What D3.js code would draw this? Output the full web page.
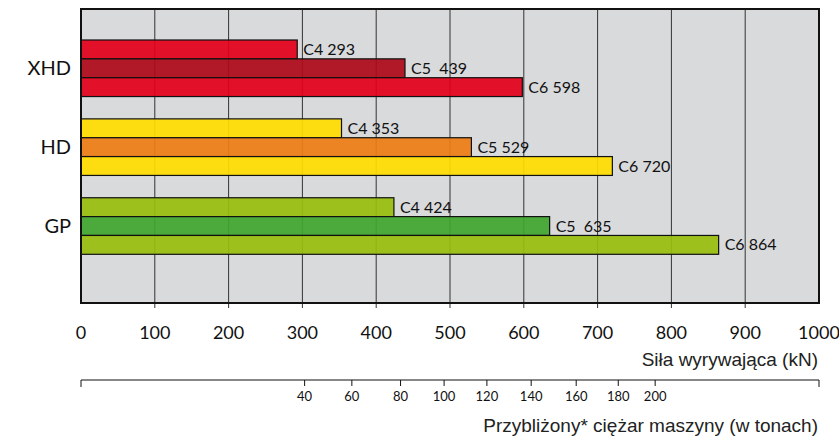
<!DOCTYPE html>
<html>
<head>
<meta charset="utf-8">
<script src="https://cdn.jsdelivr.net/npm/d3@7"></script>
<style>
  body { margin: 0; background: #fff; }
  svg { display: block; }
</style>
</head>
<body>
<div id="chart"></div>
<script>
// data
var groups = ["XHD", "HD", "GP"];
var models = ["C4", "C5", "C6"];
var xhdValues = [293, 439, 598];
var hdValues = [353, 529, 720];
var gpValues = [424, 635, 864];
var barLabels = [["C4 293", "C5  439", "C6 598"],
                 ["C4 353", "C5 529", "C6 720"],
                 ["C4 424", "C5  635", "C6 864"]];
var forceTicks = [0, 100, 200, 300, 400, 500, 600, 700, 800, 900, 1000];
var tonTicks = [40, 60, 80, 100, 120, 140, 160, 180, 200];
var tonAtForce = [303, 367, 433, 492, 550, 610, 671, 728, 778]; // kN position of each tonnage tick
var colors = {
    XHD: ["#e2001a", "#ad0a1a", "#e2001a"],
    HD: ["#ffdd00", "#ed7d14", "#ffdd00"],
    GP: ["#98bd0e", "#40a62e", "#98bd0e"]
};

var W = 839, H = 437;
var plotL = 81, plotR = 819, plotT = 9, plotB = 303;

var svg = d3.select("#chart").append("svg")
    .attr("width", W).attr("height", H);

var x = d3.scaleLinear().domain([0, 1000]).range([plotL, plotR]);
var y = d3.scaleBand().domain(groups).range([40, 254.3]).paddingInner(0.283).paddingOuter(0);
var yInner = d3.scaleBand().domain(models).range([0, y.bandwidth()]);

// background
svg.append("rect")
    .attr("x", plotL).attr("y", plotT)
    .attr("width", plotR - plotL).attr("height", plotB - plotT)
    .attr("fill", "#d9dadc");

// grid
svg.append("g").selectAll("line")
    .data(forceTicks.slice(1, -1))
    .enter().append("line")
    .attr("x1", function(d){ return x(d); }).attr("x2", function(d){ return x(d); })
    .attr("y1", plotT).attr("y2", plotB + 5)
    .attr("stroke", "#333").attr("stroke-width", 1);

// bars
var allValues = [xhdValues, hdValues, gpValues];
groups.forEach(function(g, gi){
    var grp = svg.append("g").attr("transform", "translate(0," + y(g) + ")");
    grp.selectAll("rect")
        .data(allValues[gi])
        .enter().append("rect")
        .attr("x", x(0))
        .attr("y", function(d, i){ return yInner(models[i]); })
        .attr("width", function(d){ return x(d) - x(0); })
        .attr("height", yInner.bandwidth())
        .attr("fill", function(d, i){ return colors[g][i]; })
        .attr("fill-opacity", 0.93)
        .attr("stroke", "#111").attr("stroke-width", 1.2);
    grp.selectAll("text")
        .data(allValues[gi])
        .enter().append("text")
        .attr("x", function(d){ return x(d) + 6; })
        .attr("y", function(d, i){ return yInner(models[i]) + yInner.bandwidth() / 2; })
        .attr("dy", "0.35em")
        .style("white-space", "pre")
        .attr("font-family", "Lato, sans-serif").attr("font-size", 16)
        .attr("fill", "#111")
        .text(function(d, i){ return barLabels[gi][i]; });
});

// category labels
svg.append("g").selectAll("text")
    .data(groups)
    .enter().append("text")
    .attr("x", 71)
    .attr("y", function(d){ return y(d) + y.bandwidth() / 2; })
    .attr("dy", "0.35em")
    .attr("text-anchor", "end")
    .attr("font-family", "Lato, sans-serif").attr("font-size", 20)
    .attr("fill", "#111")
    .text(function(d){ return d; });

// frame
svg.append("rect")
    .attr("x", plotL).attr("y", plotT)
    .attr("width", plotR - plotL).attr("height", plotB - plotT)
    .attr("fill", "none").attr("stroke", "#111").attr("stroke-width", 2);

// force axis labels
svg.append("g").selectAll("text")
    .data(forceTicks)
    .enter().append("text")
    .attr("x", function(d){ return x(d); })
    .attr("y", 333).attr("dy", "0.35em")
    .attr("text-anchor", "middle")
    .attr("font-family", "Lato, sans-serif").attr("font-size", 18)
    .attr("fill", "#111")
    .text(function(d){ return d; });

svg.append("text")
    .attr("x", 818).attr("y", 366)
    .attr("text-anchor", "end")
    .attr("font-family", "'Liberation Sans', Arial, sans-serif").attr("font-size", 19)
    .attr("fill", "#222")
    .text("Siła wyrywająca (kN)");

// tonnage axis
var ta = svg.append("g");
ta.append("line")
    .attr("x1", plotL).attr("x2", plotR).attr("y1", 380).attr("y2", 380)
    .attr("stroke", "#111").attr("stroke-width", 1.2);
ta.selectAll("line.end")
    .data([0, 1000])
    .enter().append("line").attr("class", "end")
    .attr("x1", function(d){ return x(d); }).attr("x2", function(d){ return x(d); })
    .attr("y1", 380).attr("y2", 387)
    .attr("stroke", "#111");
ta.selectAll("line.tick")
    .data(tonAtForce)
    .enter().append("line").attr("class", "tick")
    .attr("x1", function(d){ return x(d); }).attr("x2", function(d){ return x(d); })
    .attr("y1", 380).attr("y2", 386)
    .attr("stroke", "#111");
ta.selectAll("text")
    .data(tonTicks)
    .enter().append("text")
    .attr("x", function(d, i){ return x(tonAtForce[i]); })
    .attr("y", 396).attr("dy", "0.35em")
    .attr("text-anchor", "middle")
    .attr("font-family", "Lato, sans-serif").attr("font-size", 13)
    .attr("fill", "#111")
    .text(function(d){ return d; });

svg.append("text")
    .attr("x", 818).attr("y", 432)
    .attr("text-anchor", "end")
    .attr("font-family", "'Liberation Sans', Arial, sans-serif").attr("font-size", 19)
    .attr("fill", "#222")
    .text("Przybliżony* ciężar maszyny (w tonach)");
</script>
</body>
</html>
